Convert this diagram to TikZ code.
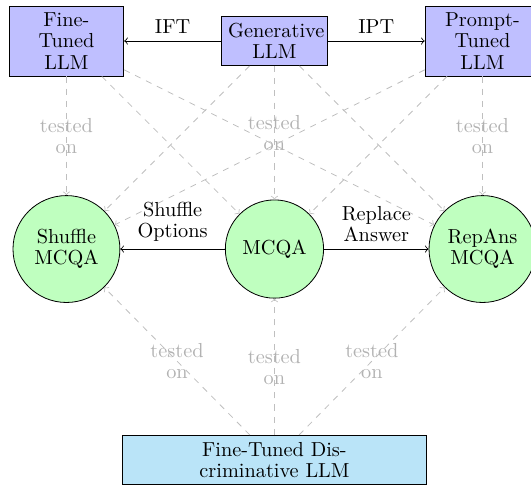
\documentclass[tikz,border=0pt]{standalone}
\usepackage{tikz}
\definecolor{discblue}{RGB}{186,228,248}

\begin{document}
\begin{tikzpicture}[font={\fontsize{10}{10.5}\selectfont}]
	\tikzstyle{llm}=[draw,fill=blue!25,align=center,text width=1.75cm];
	\tikzstyle{task}=[draw,circle,fill=green!25,align=center,minimum size=1.85cm];
	\tikzstyle{test}=[->,dashed,draw=gray!50];
	\tikzstyle{tested}=[text=gray!60,align=center,text width=1cm];
	\useasboundingbox (-4.75,-4.12) rectangle (4.44,4.31);
	\node[llm] (ft) at (-3.6,3.6) {Fine-Tuned LLM};
	\node[llm,text width=1.6cm] (gen) at (0,3.6) {Generative LLM};
	\node[llm] (pt) at (3.6,3.6) {Prompt-Tuned LLM};
	\node[task] (shuf) at (-3.6,0) {Shuffle\\MCQA};
	\node[task,minimum size=1.7cm] (mcqa) at (0,0) {MCQA};
	\node[task] (rep) at (3.6,0) {RepAns\\MCQA};
	\node[draw,fill=discblue,align=center,text width=4.8cm,minimum width=5.27cm] (disc) at (0,-3.65) {Fine-Tuned Discriminative LLM};
	% tuning and perturbation
	\draw[->] (gen) -- node[above]{IFT} (ft);
	\draw[->] (gen) -- node[above]{IPT} (pt);
	\draw[->] (mcqa) -- node[above,align=center]{Shuffle\\Options} (shuf);
	\draw[->] (mcqa) -- node[above,align=center]{Replace\\Answer} (rep);
	% evaluation
	\foreach \s/\t in {ft/shuf,gen/mcqa,pt/rep,disc/shuf,disc/mcqa,disc/rep}
		\draw[test] (\s) -- node[tested]{tested on} (\t);
	\foreach \s/\t in {ft/mcqa,ft/rep,gen/shuf,gen/rep,pt/shuf,pt/mcqa}
		\draw[test] (\s) -- (\t);
\end{tikzpicture}
\end{document}
